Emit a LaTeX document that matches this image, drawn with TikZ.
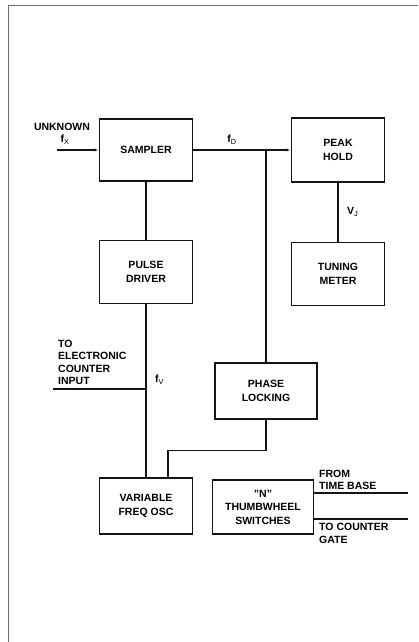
\documentclass[tikz,border=0pt]{standalone}
\usepackage{fontspec}
\setmainfont{Liberation Sans}
\usepackage{tikz}
\usetikzlibrary{arrows.meta, positioning}
\definecolor{inkblack}{RGB}{20, 20, 20}
\definecolor{framegray}{RGB}{110, 110, 110}

\tikzset{
    block/.style={draw=inkblack, line width=1.2pt, minimum width=93pt, align=center,
        inner sep=0pt, font=\fontsize{10.5}{13.5}\selectfont\bfseries},
    wire/.style={draw=inkblack, line width=1.2pt},
    tag/.style={font=\fontsize{10.5}{12.5}\selectfont\bfseries, inner sep=0pt, align=left}
}

\begin{document}
\begin{tikzpicture}[x=1pt, y=-1pt]
    \useasboundingbox (0,0) rectangle (418,642);

    % Page frame
    \draw[framegray, line width=1pt] (8,642) -- (8,6) -- (418,6);

    % Blocks
    \node[block, minimum height=62pt] (sampler) at (146,150) {SAMPLER};
    \node[block, minimum height=64pt] (peak) at (338,150) {PEAK\\HOLD};
    \node[block, minimum height=63pt] (tuning) at (338,274) {TUNING\\METER};
    \node[block, minimum height=63pt] (pulse) at (146,272) {PULSE\\DRIVER};
    \node[block, minimum width=102pt, minimum height=56pt] (phase) at (266,391) {PHASE\\LOCKING};
    \node[block, minimum height=56pt] (vfo) at (146,506) {VARIABLE\\FREQ OSC};
    \node[block, minimum width=101pt, minimum height=54pt] (thumb) at (263,507) {"N"\\THUMBWHEEL\\SWITCHES};

    % Free ends
    \coordinate (unk) at (57,150);
    \coordinate (split) at (266,150);
    \coordinate (cntin) at (53,389);
    \coordinate (tbase) at (408,493);
    \coordinate (cgate) at (408,519);

    % Connectors
    \draw[wire, -{Latex[length=5pt, width=3pt]}] (unk) -- (sampler.west);
    \draw[wire, -{Latex[length=5pt, width=3pt]}] (sampler.east) -- (peak.west);
    \draw[wire] (split) -- (phase.north);
    \draw[wire] (peak.south) -- (tuning.north);
    \draw[wire] (sampler.south) -- (pulse.north);
    \draw[wire] (pulse.south) -- (vfo.north);
    \draw[wire] (cntin) -- (cntin -| pulse.south);
    \draw[wire] (phase.south) -- ++(0,31) -| ([xshift=22pt]vfo.north);
    \draw[wire] (thumb.east |- tbase) -- (tbase);
    \draw[wire] (thumb.east |- cgate) -- (cgate);

    % Labels
    \node[tag, anchor=center] (unklbl) at (62,127) {UNKNOWN};
    \node[tag, anchor=center] (fxlbl) at (65,140) {f$_\mathrm{X}$};
    \node[tag, anchor=center] (fdlbl) at (232,140) {f$_\mathrm{D}$};
    \node[tag, anchor=west] (vjlbl) at (347,212) {V$_\mathrm{J}$};
    \node[tag, anchor=west] (fvlbl) at (155,380) {f$_\mathrm{V}$};
    \node[tag, anchor=south west] (cntlbl) at (58,385) {TO\\ELECTRONIC\\COUNTER\\INPUT};
    \node[tag, anchor=south west] (tblbl) at (319,490) {FROM\\TIME BASE};
    \node[tag, anchor=north west] (cglbl) at (319,523) {TO COUNTER\\GATE};
\end{tikzpicture}
\end{document}
